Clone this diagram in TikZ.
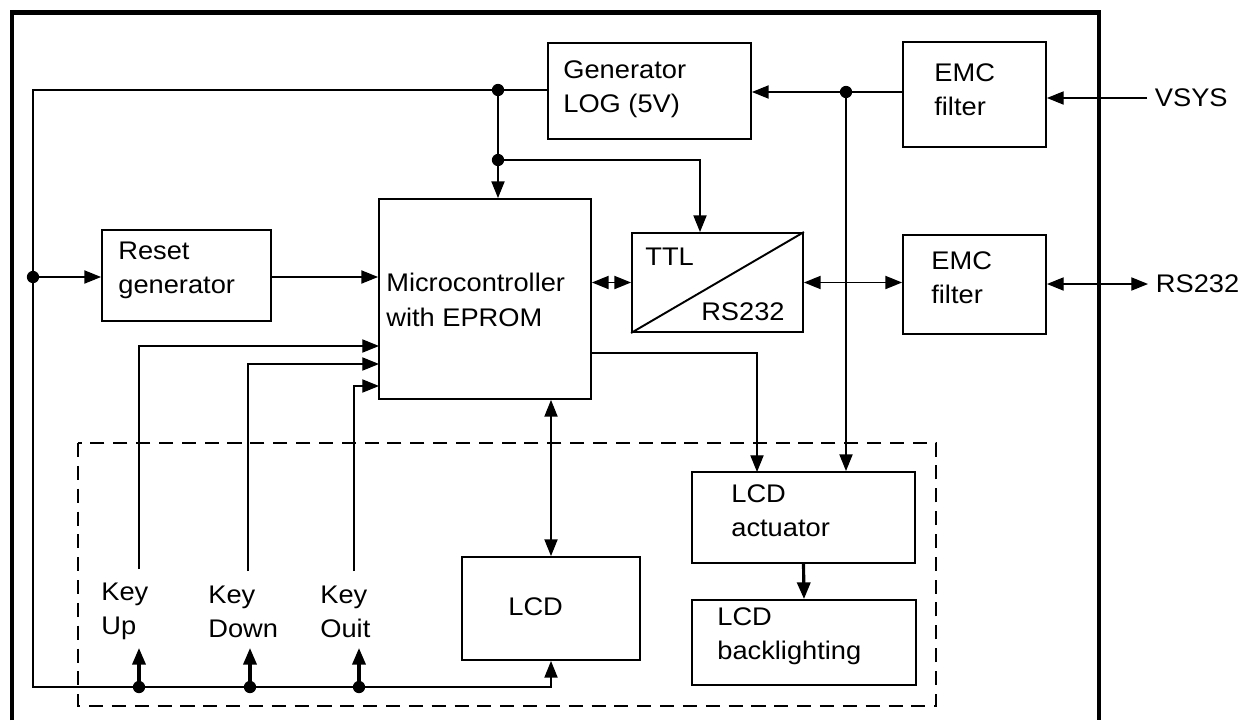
\documentclass[tikz,border=0pt]{standalone}
\usepackage{fontspec}
\setmainfont[FakeStretch=1.07]{Liberation Sans}
\usetikzlibrary{arrows.meta}
\begin{document}
\begin{tikzpicture}[x=0.02cm,y=-0.02cm,
  box/.style={draw, line width=1.1pt, inner sep=0pt},
  lbl/.style={font=\fontsize{14.5}{19.5}\selectfont, inner sep=0pt, align=left, anchor=west},
  wire/.style={line width=0.75pt},
  arr/.style={wire, -{Triangle[length=9.5pt,width=7.5pt]}},
  dbl/.style={wire, {Triangle[length=9.5pt,width=7.5pt]}-{Triangle[length=9.5pt,width=7.5pt]}},
  thk/.style={line width=1.8pt, -{Triangle[length=9.5pt,width=7.5pt]}},
  dot/.style={fill, radius=3.5pt}
]
\useasboundingbox (0,0) rectangle (1250,720);
% outer frame
\draw[line width=2.8pt] (12,720) -- (12,12.5) -- (1099,12.5) -- (1099,720);
% dashed display area
\draw[dashed, line width=1.1pt, dash pattern=on 8pt off 5pt] (78,443) rectangle (936,706);

% boxes
\node[box, minimum width=4.06cm, minimum height=1.92cm] (gen) at (649.5,91) {};
\node[box, minimum width=2.86cm, minimum height=2.10cm] (emc1) at (974.5,94.5) {};
\node[box, minimum width=4.24cm, minimum height=4.00cm] (micro) at (485,299) {};
\node[box, minimum width=3.42cm, minimum height=1.98cm] (ttl) at (717.5,282.5) {};
\node[box, minimum width=2.86cm, minimum height=1.98cm] (emc2) at (974.5,284.5) {};
\node[box, minimum width=3.38cm, minimum height=1.82cm] (reset) at (186.5,275.5) {};
\node[box, minimum width=3.56cm, minimum height=2.06cm] (lcd) at (551,608.5) {};
\node[box, minimum width=4.46cm, minimum height=1.82cm] (act) at (803.5,517.5) {};
\node[box, minimum width=4.48cm, minimum height=1.70cm] (back) at (804,642.5) {};
\draw[line width=1.1pt] (ttl.south west) -- (ttl.north east);

% labels
\node[lbl] (tgen) at (563,89.5) {Generator\\LOG (5V)};
\node[lbl] (temc1) at (934,90) {EMC\\filter};
\node[lbl] (temc2) at (931,278) {EMC\\filter};
\node[lbl] (treset) at (118,270.5) {Reset\\generator};
\node[lbl] (tmicro) at (386,300) {Microcontroller\\with EPROM};
\node[lbl] (tttl) at (645,257) {TTL};
\node[lbl, anchor=east] (trs) at (785,312) {RS232};
\node[lbl] (kup) at (101,611.5) {Key\\Up};
\node[lbl] (kdown) at (208,611.5) {Key\\Down};
\node[lbl] (kouit) at (320,611.5) {Key\\Ouit};
\node[lbl] (tlcd) at (508,607) {LCD};
\node[lbl] (tact) at (731,510.5) {LCD\\actuator};
\node[lbl] (tback) at (717,636) {LCD\\backlighting};
\node[lbl, outer sep=4.5pt] (vsys) at (1147,98) {VSYS};
\node[lbl, outer sep=4.5pt] (rs) at (1148,284) {RS232};

% junctions and corners
\coordinate (jA) at (498,90);
\coordinate (jB) at (498,160);
\coordinate (jC) at (846,92);
\coordinate (jR) at (33,277);
\coordinate (tl) at (33,90);
\coordinate (bl) at (33,687);
\coordinate (k1) at (139,687);
\coordinate (k2) at (250,687);
\coordinate (k3) at (359,687);
\coordinate (ktop) at (0,648);
\coordinate (tin) at (700,160);
\coordinate (ku) at (139,569);
\coordinate (kd) at (248,571);
\coordinate (ko) at (354,571);
\coordinate (uin) at (379,346);
\coordinate (din) at (379,364);
\coordinate (oin) at (379,386);
\coordinate (mo) at (591,353);
\coordinate (ain) at (757,472);

% supply bus
\draw[arr] (gen.west |- jA) -- (tl) -- (bl) -- (bl -| lcd.south) -- (lcd.south);
\draw[arr] (jA) -- (micro.north -| jA);
\draw[arr] (jB) -| (ttl.north -| tin);
\draw[arr] (emc1.west |- jC) -- (gen.east |- jC);
\draw[arr] (jC) -- (act.north -| jC);
\draw[arr] (vsys.west) -- (emc1.east |- vsys.west);
\draw[arr] (jR) -- (reset.west |- jR);
\draw[arr] (reset.east |- jR) -- (micro.west |- jR);

% data
\draw[dbl] (micro.east |- ttl.west) -- (ttl.west);
\draw[dbl] (ttl.east) -- (emc2.west |- ttl.east);
\draw[dbl] (emc2.east |- rs.west) -- (rs.west);
\draw[dbl] (lcd.north) -- (lcd.north |- micro.south);
\draw[arr] (mo) -| (ain);
\draw[thk] (act.south) -- (back.north);

% keys
\draw[arr] (ku) |- (uin);
\draw[arr] (kd) |- (din);
\draw[arr] (ko) |- (oin);
\draw[thk] (k1) -- (k1 |- ktop);
\draw[thk] (k2) -- (k2 |- ktop);
\draw[thk] (k3) -- (k3 |- ktop);

% dots
\fill[dot] (jA) circle;
\fill[dot] (jB) circle;
\fill[dot] (jC) circle;
\fill[dot] (jR) circle;
\fill[dot] (k1) circle;
\fill[dot] (k2) circle;
\fill[dot] (k3) circle;
\end{tikzpicture}
\end{document}
